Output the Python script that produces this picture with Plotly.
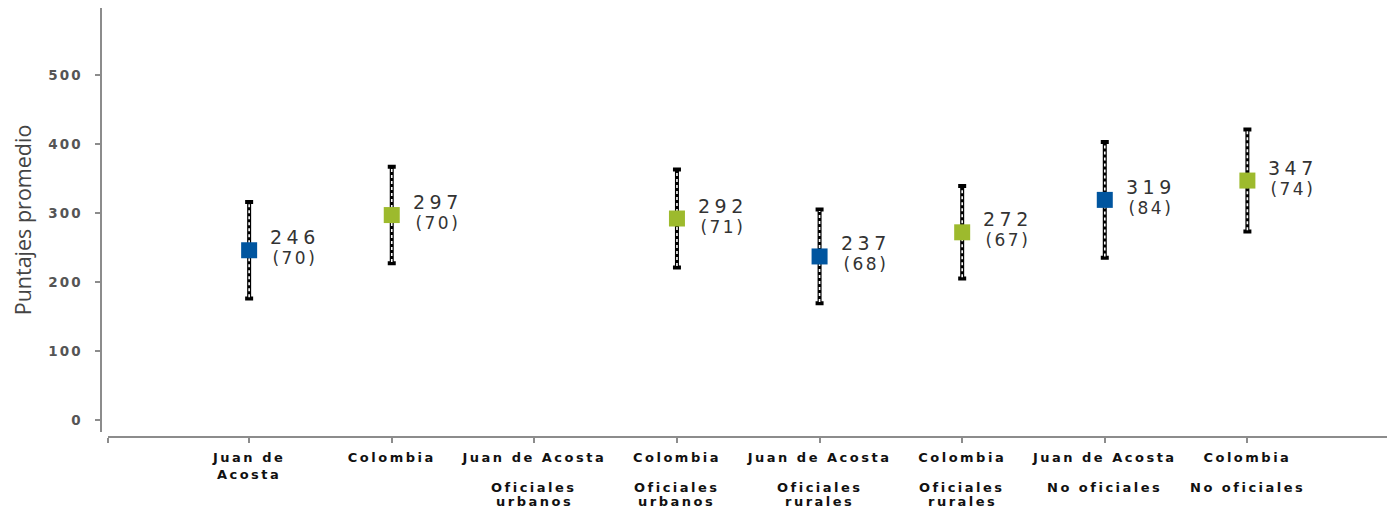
import plotly.graph_objects as go

# ---- data ----
entities = ["Juan de Acosta", "Colombia", "Juan de Acosta", "Colombia",
            "Juan de Acosta", "Colombia", "Juan de Acosta", "Colombia"]
label_line1 = ["Juan de<br>Acosta", "Colombia", "Juan de Acosta", "Colombia",
               "Juan de Acosta", "Colombia", "Juan de Acosta", "Colombia"]
group_labels = ["", "", "Oficiales<br>urbanos", "Oficiales<br>urbanos",
                "Oficiales<br>rurales", "Oficiales<br>rurales",
                "No oficiales", "No oficiales"]
means = [246, 297, None, 292, 237, 272, 319, 347]
sds = [70, 70, None, 71, 68, 67, 84, 74]
y_ticks = [0, 100, 200, 300, 400, 500]
y_title = "Puntajes promedio"

entity_colors = {"Juan de Acosta": "#00559F", "Colombia": "#9DBA2D"}

positions = list(range(len(entities)))
x_range = [-0.99, 8.0]
y_range = [-17.4, 597.1]

fig = go.Figure()

# error bars (black)
pts = [(p, m, s) for p, m, s in zip(positions, means, sds) if m is not None]
fig.add_trace(go.Scatter(
    x=[p for p, m, s in pts], y=[m for p, m, s in pts], mode="markers",
    marker=dict(size=1, opacity=0),
    error_y=dict(type="data", array=[s for p, m, s in pts], visible=True,
                 color="black", thickness=4, width=4),
    showlegend=False, hoverinfo="skip"))

# white dotted centre of error bars
wx, wy = [], []
for p, m, s in pts:
    wx += [p, p, None]
    wy += [m - s + 2, m + s - 2, None]
fig.add_trace(go.Scatter(x=wx, y=wy, mode="lines",
                         line=dict(color="white", width=1.6, dash="dot"),
                         showlegend=False, hoverinfo="skip"))

# markers
for ent in ["Juan de Acosta", "Colombia"]:
    xs = [p for p, m, s in pts if entities[p] == ent]
    ys = [m for p, m, s in pts if entities[p] == ent]
    fig.add_trace(go.Scatter(x=xs, y=ys, mode="markers", name=ent,
                             marker=dict(symbol="square", size=16,
                                         color=entity_colors[ent]),
                             showlegend=False))

# value labels
for p, m, s in pts:
    fig.add_annotation(
        x=p, y=m, xref="x", yref="y",
        text=(f"<span style='font-size:19px;letter-spacing:4.5px'>{m}</span><br>"
              f"<span style='font-size:17px;letter-spacing:2.5px'>({s})</span>"),
        showarrow=False, xanchor="left", yanchor="middle", xshift=19, yshift=3,
        align="center",
        font=dict(family="DejaVu Sans", size=15.5, color="#333333"))

LS = "letter-spacing:2.5px"
ticktext = ["<br>".join(f"<span style='{LS}'>{part}</span>" for part in l1.split("<br>"))
            for l1 in label_line1]

# group labels (second row under the axis), one annotation per line
for p, g in zip(positions, group_labels):
    if not g:
        continue
    for k, line in enumerate(g.split("<br>")):
        fig.add_annotation(
            x=p, y=0, xref="x", yref="paper", yanchor="middle",
            yshift=-(50 + 14 * k), showarrow=False,
            text=f"<span style='{LS}'>{line}</span>",
            font=dict(family="DejaVu Sans", size=13, color="#111111", weight="bold"))

fig.update_layout(
    width=1387, height=500,
    margin=dict(l=93, r=5, t=0, b=71),
    paper_bgcolor="white", plot_bgcolor="white",
    xaxis=dict(range=x_range, domain=[0.0054, 1], anchor="free", position=0,
               automargin=False,
               showline=True, linecolor="#8c8c8c", linewidth=1.5,
               ticks="outside", ticklen=5, tickcolor="#8c8c8c", tickwidth=1.5,
               tickvals=positions + x_range, ticktext=ticktext + ["", ""],
               tickfont=dict(family="DejaVu Sans", size=13, color="#111111",
                             weight="bold"),
               showgrid=False, zeroline=False, ticklabelstandoff=4),
    yaxis=dict(range=y_range, domain=[0.0117, 1], anchor="free", position=0,
               automargin=False,
               showline=True, linecolor="#8c8c8c", linewidth=1.5,
               ticks="outside", ticklen=5, tickcolor="#8c8c8c", tickwidth=1.5,
               tickvals=y_ticks,
               ticktext=[f"<span style='letter-spacing:2px'>{v}</span>" for v in y_ticks],
               tickfont=dict(family="DejaVu Sans", size=13.5, color="#555555",
                             weight="bold"),
               ticklabelstandoff=10,
               showgrid=False, zeroline=False,
               title=dict(text=y_title, standoff=16,
                          font=dict(family="Open Sans", size=21.5, color="#444444"))),
)

fig.write_html("out.html")
